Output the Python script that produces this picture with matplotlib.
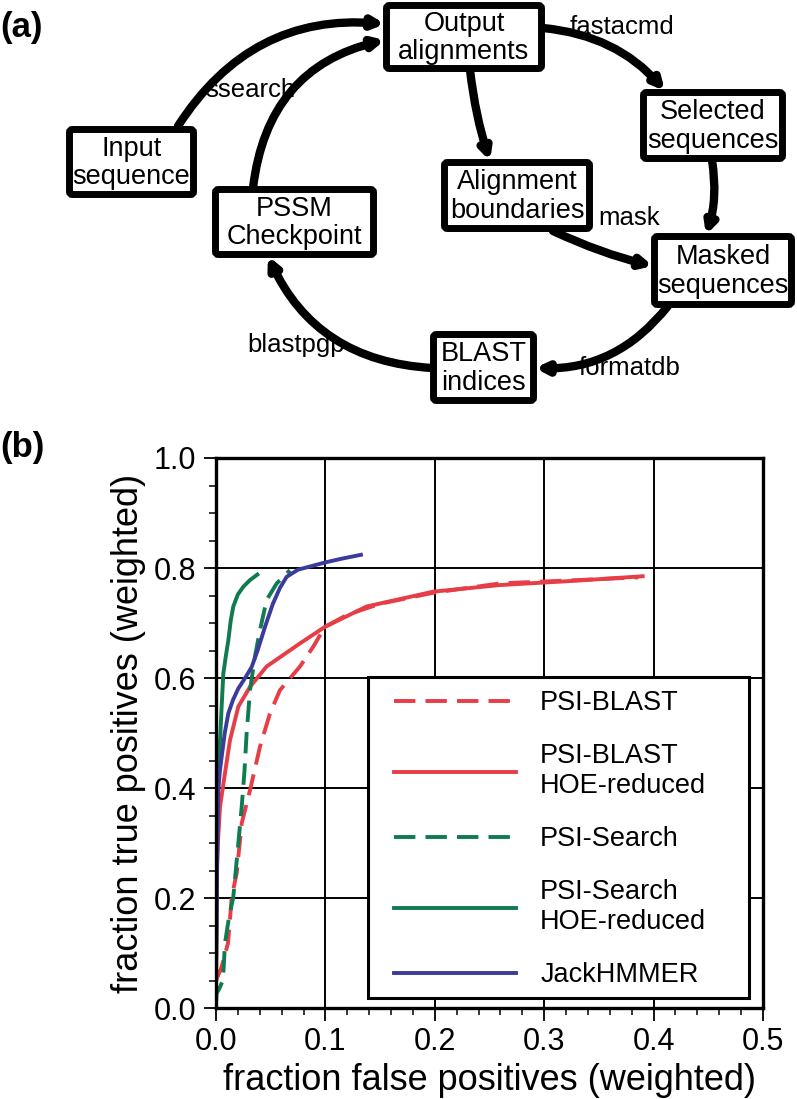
import matplotlib
matplotlib.use('Agg')
import matplotlib.pyplot as plt
from matplotlib.patches import FancyBboxPatch, FancyArrowPatch, Rectangle
from matplotlib.ticker import MultipleLocator

plt.rcParams['font.family'] = ['Liberation Sans', 'DejaVu Sans']

# ---- panel (b) data ----
jack_x = [0.0, 0.0005, 0.001, 0.0021, 0.0035, 0.0052, 0.008, 0.0113, 0.0155, 0.0204, 0.026,
          0.0326, 0.038, 0.0448, 0.052, 0.0585, 0.0646, 0.075, 0.0996, 0.115, 0.1325]
jack_y = [0.07, 0.15, 0.25, 0.396, 0.43, 0.457, 0.50, 0.536, 0.56, 0.581, 0.598,
          0.62, 0.65, 0.693, 0.735, 0.764, 0.784, 0.797, 0.81, 0.817, 0.824]

psearch_hoe_x = [0.0, 0.0005, 0.0012, 0.0025, 0.0037, 0.0052, 0.0067, 0.009, 0.0113, 0.0135,
                 0.0158, 0.02, 0.025, 0.031, 0.0378]
psearch_hoe_y = [0.02, 0.2, 0.366, 0.43, 0.487, 0.55, 0.608, 0.64, 0.669, 0.705,
                 0.730, 0.752, 0.766, 0.778, 0.788]

psearch_x = [0.0, 0.0006, 0.003, 0.0064, 0.0082, 0.0115, 0.0158, 0.0195, 0.0235, 0.026, 0.028,
             0.0311, 0.0356, 0.0402, 0.0463, 0.0555, 0.0676]
psearch_y = [0.01, 0.027, 0.035, 0.051, 0.118, 0.16, 0.202, 0.28, 0.366, 0.43, 0.499,
             0.578, 0.639, 0.687, 0.742, 0.772, 0.796]

pblast_hoe_x = [0.0, 0.0003, 0.0006, 0.002, 0.0037, 0.0082, 0.0128, 0.0204, 0.0311, 0.0463,
                0.0768, 0.0996, 0.1377, 0.1986, 0.2596, 0.33, 0.39]
pblast_hoe_y = [0.05, 0.12, 0.245, 0.31, 0.366, 0.427, 0.487, 0.548, 0.584, 0.621,
                0.663, 0.693, 0.730, 0.757, 0.769, 0.777, 0.785]

pblast_x = [0.0, 0.0052, 0.011, 0.0144, 0.0189, 0.0235, 0.0311, 0.0402, 0.0494, 0.0585, 0.0768,
            0.0889, 0.0996, 0.12, 0.15, 0.1986, 0.2596, 0.33, 0.386]
pblast_y = [0.05, 0.075, 0.118, 0.202, 0.245, 0.336, 0.396, 0.475, 0.536, 0.578, 0.621,
            0.657, 0.693, 0.715, 0.735, 0.755, 0.772, 0.778, 0.783]

# ---- panel (a) content ----
box_labels = ['Input\nsequence', 'PSSM\nCheckpoint', 'Output\nalignments', 'Selected\nsequences',
              'Alignment\nboundaries', 'Masked\nsequences', 'BLAST\nindices']
edge_labels = ['ssearch', 'fastacmd', 'mask', 'formatdb', 'blastpgp']

RED = '#e63d46'
GREEN = '#107a50'
BLUE = '#3b3b9c'

fig = plt.figure(figsize=(7.97, 10.99), dpi=100)

# diagram layer in pixel coordinates
ax0 = fig.add_axes([0, 0, 1, 1])
ax0.set_xlim(0, 797)
ax0.set_ylim(1099, 0)
ax0.axis('off')

boxes = [(66, 126, 197, 198), (212, 186, 377, 258), (383, 2, 545, 72), (640, 89, 786, 162),
         (441, 159, 593, 232), (651, 233, 795, 308), (430, 331, 537, 404)]
inset = 3.5
for (x0, y0, x1, y1), lab in zip(boxes, box_labels):
    p = FancyBboxPatch((x0 + inset, y0 + inset), x1 - x0 - 2 * inset, y1 - y0 - 2 * inset,
                       boxstyle='round,pad=0,rounding_size=3', fc='white', ec='black',
                       lw=5, zorder=3)
    ax0.add_patch(p)
    ax0.text((x0 + x1) / 2, (y0 + y1) / 2 + 1, lab, ha='center', va='center',
             fontsize=19.5, linespacing=1.12, zorder=4)

arrows = [((178, 126), (385, 24), -0.3),
          ((253, 188), (385, 40), -0.35),
          ((543, 28), (665, 91), -0.2),
          ((470, 70), (490, 161), 0.05),
          ((712, 160), (706, 235), -0.12),
          ((553, 231), (653, 266), 0.05),
          ((668, 306), (535, 368), -0.25),
          ((432, 368), (268, 256), -0.3)]
for a, b, rad in arrows:
    ar = FancyArrowPatch(a, b, connectionstyle='arc3,rad=%s' % rad, arrowstyle='-|>',
                         mutation_scale=15, lw=6, color='black', shrinkA=0, shrinkB=0,
                         zorder=2)
    ax0.add_patch(ar)

label_pos = [(250, 90), (622, 27), (629, 218), (630, 368), (296, 345)]
for (x, y), lab in zip(label_pos, edge_labels):
    ax0.text(x, y, lab, ha='center', va='center', fontsize=18.5)

ax0.text(0, 27, '(a)', ha='left', va='center', fontsize=25, fontweight='bold')
ax0.text(0, 447, '(b)', ha='left', va='center', fontsize=25, fontweight='bold')

# ---- panel (b) ----
ax = fig.add_axes([216 / 797, 91 / 1099, 547 / 797, 550 / 1099])
lw = 2.8
ax.plot(pblast_x, pblast_y, color=RED, lw=lw, ls=(0, (5.5, 2.6)), label='PSI-BLAST')
ax.plot(pblast_hoe_x, pblast_hoe_y, color=RED, lw=lw, label='PSI-BLAST\nHOE-reduced')
ax.plot(psearch_x, psearch_y, color=GREEN, lw=lw, ls=(0, (5.5, 2.6)), label='PSI-Search')
ax.plot(psearch_hoe_x, psearch_hoe_y, color=GREEN, lw=lw, label='PSI-Search\nHOE-reduced')
ax.plot(jack_x, jack_y, color=BLUE, lw=lw, label='JackHMMER')

ax.set_xlim(0, 0.5)
ax.set_ylim(0, 1.0)
ax.xaxis.set_major_locator(MultipleLocator(0.1))
ax.xaxis.set_minor_locator(MultipleLocator(0.02))
ax.yaxis.set_major_locator(MultipleLocator(0.2))
ax.yaxis.set_minor_locator(MultipleLocator(0.05))
ax.xaxis.set_major_formatter(plt.FuncFormatter(lambda v, p: '%.1f' % v))
ax.yaxis.set_major_formatter(plt.FuncFormatter(lambda v, p: '%.1f' % v))
ax.grid(True, which='major', color='black', lw=1.4)
for s in ax.spines.values():
    s.set_linewidth(2.4)
ax.tick_params(which='major', length=9, width=1.3, labelsize=22, pad=5, direction='out')
ax.tick_params(which='minor', length=5, width=1.1, direction='out')
ax.set_xlabel('fraction false positives (weighted)', fontsize=26, labelpad=4)
ax.set_ylabel('fraction true positives (weighted)', fontsize=26, labelpad=6)

# legend frame drawn separately so the entries can sit inside with wide margins
frame = Rectangle((0.278, 0.018), 0.696, 0.584, transform=ax.transAxes, fc='white',
                  ec='black', lw=2.2, zorder=4)
ax.add_patch(frame)
leg = ax.legend(loc='upper left', bbox_to_anchor=(0.3254, 0.578), borderaxespad=0,
                borderpad=0, fontsize=19.5, handlelength=4.5, handletextpad=0.9,
                labelspacing=1.0, frameon=False)
leg.set_zorder(5)

fig.savefig('out.png', dpi=100)
